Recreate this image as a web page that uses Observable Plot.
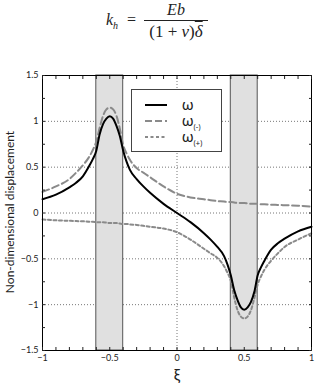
<!DOCTYPE html>
<html>
<head>
<meta charset="utf-8">
<script src="https://cdn.jsdelivr.net/npm/d3@7"></script>
<script src="https://cdn.jsdelivr.net/npm/@observablehq/plot@0.6"></script>
<style>
  body { margin: 0; background: #fff; }
  #wrap { position: relative; width: 315px; height: 387px; font-family: Lato, "Open Sans", sans-serif; overflow: hidden; }
  #formula { position: absolute; left: 0; top: 0; width: 315px; height: 55px; font-family: "Liberation Serif", "DejaVu Serif", serif; font-size: 16px; color: #222; }
  .frac { position: absolute; left: 144px; top: 1px; width: 64px; text-align: center; }
  .num { display: block; border-bottom: 1px solid #222; padding-bottom: 1px; }
  .den { display: block; padding-top: 1px; font-size: 17px; }
  #plot { position: absolute; left: 0; top: 55px; }
  #ylab { position: absolute; left: 9px; top: 212px; transform: translate(-50%,-50%) rotate(-90deg); font-size: 12px; white-space: nowrap; color: #222; }
  #xlab { position: absolute; left: 177px; top: 364px; transform: translateX(-50%); font-size: 16px; color: #222; }
  #legend { position: absolute; left: 131px; top: 89px; width: 91px; height: 63px; border: 1px solid #444; background: #fff; box-sizing: border-box; }
  .li { position: absolute; left: 12px; height: 14px; }
  .li svg { position: absolute; left: 0; top: 0; }
  .li span { position: absolute; left: 38px; top: -6px; font-size: 15px; color: #222; white-space: nowrap; }
  .li sub { font-size: 8px; }
</style>
</head>
<body>
<div id="wrap">
  <div id="formula">
    <span style="position:absolute;left:106px;top:11px;"><i>k</i><sub style="font-size:10px"><i>h</i></sub></span>
    <span style="position:absolute;left:127px;top:11px;">=</span>
    <span class="frac"><span class="num"><i>Eb</i></span><span class="den">(1 + <i>ν</i>)<i style="text-decoration: overline">δ</i></span></span>
  </div>
  <div id="plot"></div>
  <div id="ylab">Non-dimensional displacement</div>
  <div id="xlab">ξ</div>
  <div id="legend">
    <div class="li" style="top:11px"><svg width="24" height="8"><line x1="1" x2="23" y1="4" y2="4" stroke="#000" stroke-width="2"/></svg><span>ω</span></div>
    <div class="li" style="top:27px"><svg width="24" height="8"><line x1="1" x2="23" y1="4" y2="4" stroke="#8a8a8a" stroke-width="2" stroke-dasharray="7,3"/></svg><span>ω<sub>(-)</sub></span></div>
    <div class="li" style="top:43px"><svg width="24" height="8"><line x1="1" x2="23" y1="4" y2="4" stroke="#8a8a8a" stroke-width="2" stroke-dasharray="3,2.5"/></svg><span>ω<sub>(+)</sub></span></div>
  </div>
</div>
<script>
// ξ sample positions
const xi = [-1, -0.9, -0.8, -0.75, -0.7, -0.65, -0.625, -0.6, -0.575, -0.55, -0.525, -0.5, -0.475, -0.45, -0.425, -0.4, -0.375, -0.35, -0.3, -0.25, -0.2, -0.1, 0,
            0.1, 0.2, 0.25, 0.3, 0.35, 0.375, 0.4, 0.425, 0.45, 0.475, 0.5, 0.525, 0.55, 0.575, 0.6, 0.625, 0.65, 0.7, 0.75, 0.8, 0.9, 1];
// ω (solid black)
const omega = [0.15, 0.20, 0.28, 0.33, 0.40, 0.52, 0.59, 0.68, 0.86, 0.97, 1.03, 1.055, 1.03, 0.95, 0.84, 0.68, 0.56, 0.47, 0.37, 0.29, 0.22, 0.10, 0,
               -0.10, -0.22, -0.29, -0.37, -0.47, -0.56, -0.68, -0.84, -0.95, -1.03, -1.055, -1.03, -0.97, -0.86, -0.68, -0.59, -0.52, -0.40, -0.33, -0.28, -0.20, -0.15];
// ω(-) (long dashes)
const omegaMinus = [0.23, 0.29, 0.37, 0.44, 0.52, 0.62, 0.69, 0.78, 0.93, 1.06, 1.13, 1.15, 1.13, 1.06, 0.92, 0.74, 0.65, 0.58, 0.49, 0.44, 0.39, 0.29, 0.21,
                    0.17, 0.15, 0.14, 0.13, 0.125, 0.12, 0.12, 0.115, 0.11, 0.11, 0.11, 0.105, 0.10, 0.10, 0.10, 0.095, 0.095, 0.09, 0.088, 0.085, 0.08, 0.07];
// ω(+) (short dashes)
const omegaPlus = [-0.07, -0.08, -0.085, -0.088, -0.09, -0.095, -0.095, -0.10, -0.10, -0.10, -0.105, -0.11, -0.11, -0.11, -0.115, -0.12, -0.12, -0.125, -0.13, -0.14, -0.15, -0.17, -0.21,
                   -0.29, -0.39, -0.44, -0.49, -0.58, -0.65, -0.74, -0.92, -1.06, -1.13, -1.15, -1.13, -1.06, -0.93, -0.78, -0.69, -0.62, -0.52, -0.44, -0.37, -0.29, -0.22];
// shaded intervals
const bandStart = [-0.6, 0.4];
const bandEnd = [-0.4, 0.6];
// ticks
const xMajor = [-1, -0.5, 0, 0.5, 1];
const xMinor = [-1, -0.9, -0.8, -0.7, -0.6, -0.5, -0.4, -0.3, -0.2, -0.1, 0, 0.1, 0.2, 0.3, 0.4, 0.5, 0.6, 0.7, 0.8, 0.9, 1];
const yMajor = [-1.5, -1, -0.5, 0, 0.5, 1, 1.5];
const yMinor = [-1.5, -1.25, -1, -0.75, -0.5, -0.25, 0, 0.25, 0.5, 0.75, 1, 1.25, 1.5];
const xGrid = [-0.5, 0, 0.5];
const yGrid = [-1, -0.5, 0, 0.5, 1];

const rows = xi.map((x, i) => ({x, w: omega[i], wm: omegaMinus[i], wp: omegaPlus[i]}));
const bands = bandStart.map((a, i) => ({a, b: bandEnd[i]}));
const fmt = d => (d < 0 ? "\u2212" : "") + Math.abs(d);
const none = () => "";

const chart = Plot.plot({
  width: 315,
  height: 332,
  marginLeft: 42,
  marginRight: 4,
  marginTop: 20,
  marginBottom: 37,
  style: {fontFamily: "Lato, 'Open Sans', sans-serif", fontSize: "9px", color: "#222", background: "transparent"},
  x: {domain: [-1, 1]},
  y: {domain: [-1.5, 1.5]},
  marks: [
    Plot.gridX(xGrid, {stroke: "#777", strokeOpacity: 1, strokeDasharray: "1,2"}),
    Plot.gridY(yGrid, {stroke: "#777", strokeOpacity: 1, strokeDasharray: "1,2"}),
    Plot.rect(bands, {x1: "a", x2: "b", fill: "#e0e0e0", stroke: "#555", strokeWidth: 1}),
    Plot.line(rows, {x: "x", y: "wm", stroke: "#8a8a8a", strokeWidth: 2, strokeDasharray: "7,3.5", curve: "monotone-x"}),
    Plot.line(rows, {x: "x", y: "wp", stroke: "#8a8a8a", strokeWidth: 2, strokeDasharray: "3,2.5", curve: "monotone-x"}),
    Plot.line(rows, {x: "x", y: "w", stroke: "#000", strokeWidth: 2, curve: "monotone-x"}),
    Plot.frame({stroke: "#000"}),
    Plot.axisX(xMinor, {anchor: "bottom", tickSize: -3, tickFormat: none, label: null}),
    Plot.axisX(xMinor, {anchor: "top", tickSize: -3, tickFormat: none, label: null}),
    Plot.axisY(yMinor, {anchor: "left", tickSize: -3, tickFormat: none, label: null}),
    Plot.axisY(yMinor, {anchor: "right", tickSize: -3, tickFormat: none, label: null}),
    Plot.axisX(xMajor, {anchor: "bottom", tickSize: 0, tickPadding: 4, tickFormat: fmt, label: null}),
    Plot.axisY(yMajor, {anchor: "left", tickSize: 0, tickPadding: 4, tickFormat: fmt, label: null})
  ]
});
document.getElementById("plot").appendChild(chart);
</script>
</body>
</html>
